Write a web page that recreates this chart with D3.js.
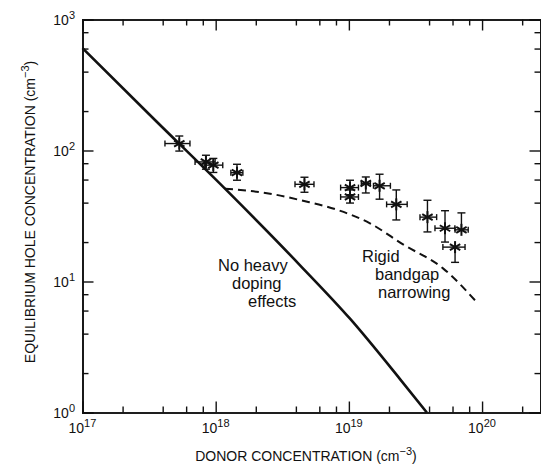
<!DOCTYPE html>
<html>
<head>
<meta charset="utf-8">
<script src="https://cdn.jsdelivr.net/npm/d3@7"></script>
<style>
  body { margin: 0; background: #fff; }
  text { font-family: 'Liberation Sans', Arial, sans-serif; fill: #111; }
</style>
</head>
<body>
<svg id="chart" width="541" height="468"></svg>
<script>

// Axis decades and minor tick multipliers.
const xDecades = [17, 18, 19, 20]
const yDecades = [0, 1, 2, 3]
const minorSteps = [2, 4, 6, 8]

// "No heavy doping effects" curve.
const solidDonor = [1e17, 3.5e17, 1.2e18, 4.3e18, 1.02e19, 2.42e19, 3.85e19]
const solidHole = [605, 171, 50, 13.3, 5.2, 1.8, 1.0]

// "Rigid bandgap narrowing" curve.
const dashDonor = [1.175e18, 2.56e18, 4.53e18, 8.15e18, 1.44e19, 2.55e19, 5.09e19, 9.3e19]
const dashHole = [51.1, 46.8, 41.3, 35.3, 27.8, 19.2, 12.6, 6.8]

// Measured points and their error ranges.
const measDonor = [5.33e17, 8.45e17, 9.6e17, 1.445e18, 4.64e18, 1.02e19, 1.02e19, 1.34e19, 1.70e19, 2.27e19, 3.89e19, 5.27e19, 7.0e19, 6.27e19]
const measHole  = [113, 81.8, 77.3, 67.7, 55.2, 52.1, 44.2, 56, 53.8, 38.8, 31.0, 25.5, 24.8, 18.3]
const donorLo   = [4.16e17, 7.0e17, 8.2e17, 1.30e18, 3.94e18, 8.67e18, 8.67e18, 1.24e19, 1.53e19, 1.92e19, 3.42e19, 4.43e19, 6.27e19, 5.08e19]
const donorHi   = [6.41e17, 9.9e17, 1.13e18, 1.60e18, 5.47e18, 1.18e19, 1.18e19, 1.45e19, 2.05e19, 2.74e19, 4.56e19, 6.25e19, 7.87e19, 7.45e19]
const holeLo    = [99, 72, 68, 59.3, 48, 46, 39.7, 47.4, 42.5, 29.5, 23.9, 20, 24.8, 14.0]
const holeHi    = [129, 92, 87, 78.5, 62.5, 59.3, 50, 62.8, 65.9, 50, 41.7, 34.7, 33.4, 18.3]

const svg = d3.select('#chart')

const mLeft = 82.5, mRight = 541, mTop = 19.5, mBottom = 412.5

const x = d3.scaleLog()
  .domain([1e17, 2.77e20])
  .range([mLeft, mRight])

const y = d3.scaleLog()
  .domain([1, 1000])
  .range([mBottom, mTop])

// Tick values.
const xMajor = xDecades.map(d => Math.pow(10, d))
const xMinor = []
xDecades.forEach(d => minorSteps.forEach(m => {
  const v = m * Math.pow(10, d)
  if (v < x.domain()[1]) xMinor.push(v)
}))
const yMajor = yDecades.map(d => Math.pow(10, d))
const yMinor = []
yDecades.slice(0, 3).forEach(d => minorSteps.forEach(m => yMinor.push(m * Math.pow(10, d))))

// Inward ticks on all four sides.
function ticks(axis, vals, size) {
  return axis.tickValues(vals).tickSize(-size).tickFormat('')
}

const frame = svg.append('g')

frame.append('g').attr('transform', 'translate(0,' + mBottom + ')')
  .call(ticks(d3.axisBottom(x), xMajor, 11))
frame.append('g').attr('transform', 'translate(0,' + mBottom + ')')
  .call(ticks(d3.axisBottom(x), xMinor, 6))
frame.append('g').attr('transform', 'translate(0,' + mTop + ')')
  .call(ticks(d3.axisTop(x), xMajor, 11))
frame.append('g').attr('transform', 'translate(0,' + mTop + ')')
  .call(ticks(d3.axisTop(x), xMinor, 6))
frame.append('g').attr('transform', 'translate(' + mLeft + ',0)')
  .call(ticks(d3.axisLeft(y), yMajor, 11))
frame.append('g').attr('transform', 'translate(' + mLeft + ',0)')
  .call(ticks(d3.axisLeft(y), yMinor, 6))
frame.append('g').attr('transform', 'translate(' + (mRight - 0.5) + ',0)')
  .call(ticks(d3.axisRight(y), yMajor, 11))
frame.append('g').attr('transform', 'translate(' + (mRight - 0.5) + ',0)')
  .call(ticks(d3.axisRight(y), yMinor, 6))

frame.selectAll('.domain').attr('stroke', '#111').attr('stroke-width', 1.6)
frame.selectAll('.tick line').attr('stroke', '#111').attr('stroke-width', 1.4)

// Tick labels with superscript exponents.
xDecades.forEach(d => {
  const t = svg.append('text')
    .attr('x', x(Math.pow(10, d)) - 14)
    .attr('y', 433)
    .style('font-size', '14px')
  t.append('tspan').text('10')
  t.append('tspan').attr('dy', -6).style('font-size', '11px').text(d)
})

yDecades.forEach(d => {
  const t = svg.append('text')
    .attr('x', 75)
    .attr('y', y(Math.pow(10, d)) + 5)
    .attr('text-anchor', 'end')
    .style('font-size', '14px')
  t.append('tspan').text('10')
  t.append('tspan').attr('dy', -6).style('font-size', '11px').text(d)
})

// Axis titles.
const xt = svg.append('text')
  .attr('x', 306)
  .attr('y', 461)
  .attr('text-anchor', 'middle')
  .style('font-size', '14px')
xt.append('tspan').text('DONOR CONCENTRATION (cm')
xt.append('tspan').attr('dy', -6).style('font-size', '11px').text('−3')
xt.append('tspan').attr('dy', 6).text(')')

const yt = svg.append('text')
  .attr('transform', 'translate(35,212) rotate(-90)')
  .attr('text-anchor', 'middle')
  .style('font-size', '14px')
yt.append('tspan').text('EQUILIBRIUM HOLE CONCENTRATION (cm')
yt.append('tspan').attr('dy', -6).style('font-size', '11px').text('−3')
yt.append('tspan').attr('dy', 6).text(')')

// Curves.
const line = d3.line()
  .x(d => x(d[0]))
  .y(d => y(d[1]))
  .curve(d3.curveMonotoneX)

svg.append('path')
  .datum(solidDonor.map((d, i) => [d, solidHole[i]]))
  .attr('d', line)
  .attr('fill', 'none')
  .attr('stroke', '#111')
  .attr('stroke-width', 2.6)

svg.append('path')
  .datum(dashDonor.map((d, i) => [d, dashHole[i]]))
  .attr('d', line)
  .attr('fill', 'none')
  .attr('stroke', '#111')
  .attr('stroke-width', 2)
  .attr('stroke-dasharray', '8,5')

// Measurements: asterisk with error bars.
const pts = svg.append('g')
  .attr('stroke', '#111')
  .attr('stroke-width', 1.4)
  .attr('fill', 'none')

measDonor.forEach((d, i) => {
  const cx = x(d), cy = y(measHole[i])
  const g = pts.append('g')
  const x0 = x(donorLo[i]), x1 = x(donorHi[i])
  const y0 = y(holeLo[i]), y1 = y(holeHi[i])

  // Horizontal bar with end caps.
  g.append('line').attr('x1', x0).attr('x2', x1).attr('y1', cy).attr('y2', cy)
  g.append('line').attr('x1', x0).attr('x2', x0).attr('y1', cy - 3).attr('y2', cy + 3)
  g.append('line').attr('x1', x1).attr('x2', x1).attr('y1', cy - 3).attr('y2', cy + 3)

  // Vertical bar with end caps.
  if (y1 < cy - 1) {
    g.append('line').attr('x1', cx).attr('x2', cx).attr('y1', y1).attr('y2', cy)
    g.append('line').attr('x1', cx - 4).attr('x2', cx + 4).attr('y1', y1).attr('y2', y1)
  }
  if (y0 > cy + 1) {
    g.append('line').attr('x1', cx).attr('x2', cx).attr('y1', cy).attr('y2', y0)
    g.append('line').attr('x1', cx - 4).attr('x2', cx + 4).attr('y1', y0).attr('y2', y0)
  }

  // Six-armed star.
  for (let a = 0; a < 3; a++) {
    const ang = Math.PI / 2 + a * Math.PI / 3
    const r = 6
    g.append('line')
      .attr('x1', cx - r * Math.cos(ang)).attr('y1', cy - r * Math.sin(ang))
      .attr('x2', cx + r * Math.cos(ang)).attr('y2', cy + r * Math.sin(ang))
      .attr('stroke-width', 2)
  }
})

// Curve annotations.
const notes = [
  ['No heavy', 218, 271], ['doping', 232, 289], ['effects', 248, 307],
  ['Rigid', 362, 262], ['bandgap', 375, 280], ['narrowing', 378, 298]
]
notes.forEach(n => {
  svg.append('text')
    .attr('x', n[1])
    .attr('y', n[2])
    .style('font-size', '16.5px')
    .text(n[0])
})

</script>
</body>
</html>
